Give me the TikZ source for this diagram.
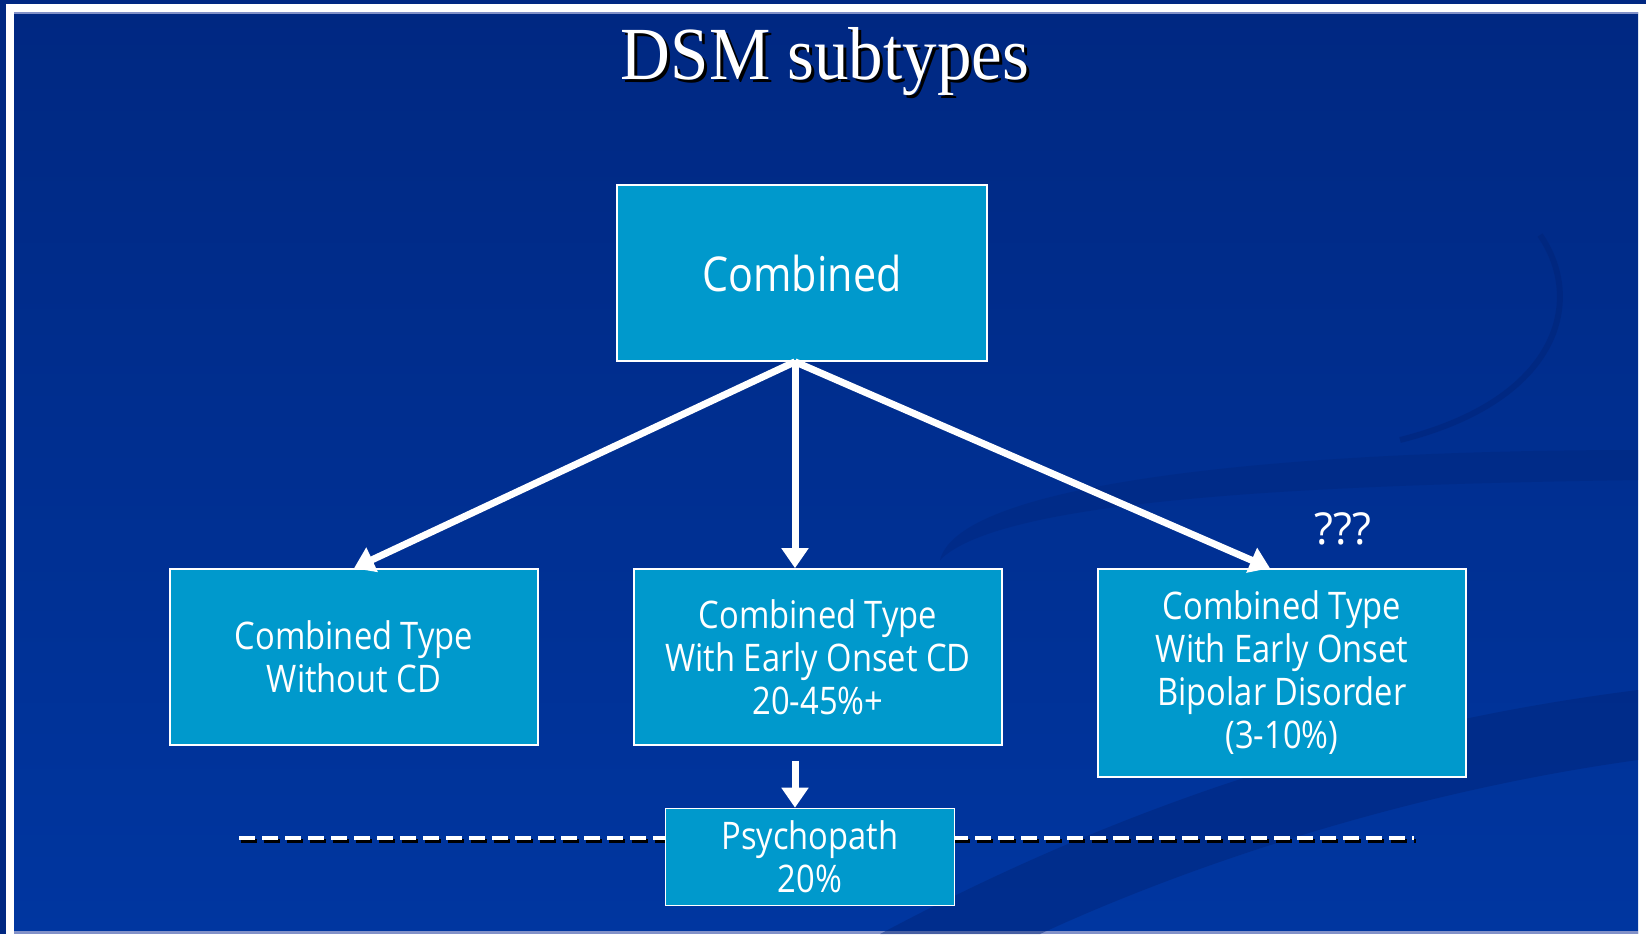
\documentclass[tikz,border=0pt]{standalone}
\usepackage{fontspec}
\usetikzlibrary{arrows.meta}
\newfontfamily\boxfont[FakeStretch=0.86]{Open Sans}
\newfontfamily\markfont{Open Sans}
\newfontfamily\titlefont[FakeStretch=0.92]{Liberation Serif}
\definecolor{slidetop}{RGB}{0,40,130}
\definecolor{slidebottom}{RGB}{0,54,160}
\definecolor{boxblue}{RGB}{0,153,204}
\definecolor{swirl}{RGB}{0,36,120}
\definecolor{edgeline}{RGB}{130,145,200}
\newcommand\shadowed[1]{\leavevmode\rlap{\hspace{1.5pt}\raisebox{-1.5pt}{\color{black}#1}}#1}
\tikzset{
  subtype/.style={draw=white,line width=0.8pt,fill=boxblue,text=white,
    inner sep=0pt,minimum width=184pt,minimum height=88pt,align=center,
    font=\boxfont\fontsize{19pt}{21.5pt}\selectfont},
  branch/.style={draw=white,line width=3.5pt,-{Triangle[width=13pt,length=10pt]}},
  cutline/.style={line width=2pt,dash pattern=on 8pt off 3.5pt}
}
\begin{document}
\begin{tikzpicture}[x=0.5pt,y=-0.5pt]
  % slide background and frame
  \useasboundingbox (0,0) rectangle (1646,934);
  \fill[slidetop] (0,0) rectangle (1646,934);
  \fill[white] (6,4) rectangle (1646,934);
  \shade[top color=slidetop,bottom color=slidebottom] (14,12) rectangle (1638,933);
  \fill[edgeline] (14,12) rectangle (1638,14);
  \fill[edgeline] (14,931) rectangle (1638,934);
  % swirls
  \fill[swirl,opacity=0.45] (880,934) .. controls (1150,790) and (1400,720) .. (1638,690)
    -- (1638,760) .. controls (1420,790) and (1200,860) .. (1040,934) -- cycle;
  \fill[swirl,opacity=0.35] (940,560) .. controls (960,480) and (1300,450) .. (1638,450)
    -- (1638,480) .. controls (1300,485) and (1000,500) .. (940,560) -- cycle;
  \draw[swirl,opacity=0.5,line width=3pt] (1540,235) .. controls (1585,300) and (1560,400) .. (1400,440);
  \node[font=\titlefont\fontsize{37.5pt}{40pt}\selectfont,text=white,anchor=base] (title) at (825,79) {\shadowed{DSM subtypes}};
  \node[subtype,minimum width=185pt,font=\boxfont\fontsize{24pt}{28pt}\selectfont] (comb) at (802,273) {Combined};
  \node[subtype] (without) at (354,657) {Combined Type\\Without CD};
  \node[subtype] (earlycd) at (818,657) {Combined Type\\With Early Onset CD\\20-45\%+};
  \node[subtype,minimum height=104pt] (bipolar) at (1282,673) {Combined Type\\With Early Onset\\Bipolar Disorder\\(3-10\%)};
  \node[text=white,font=\markfont\fontsize{22pt}{24pt}\selectfont,anchor=base] (unknown) at (1343,544) {???};
  % cut-off line behind the last box
  \draw[cutline,black] (241,841) -- (1416,841);
  \draw[cutline,white] (239,838) -- (1414,838);
  \node[subtype,minimum width=144.5pt,minimum height=48.5pt] (psych) at (810,857) {Psychopath\\20\%};
  \coordinate (hub) at ([xshift=-3.5pt]comb.south);
  \draw[branch] (hub) -- (without.north);
  \draw[branch] (hub) -- (hub |- earlycd.north);
  \draw[branch] (hub) -- ([xshift=-6pt]bipolar.north);
  \draw[branch] ([yshift=-7.5pt]hub |- earlycd.south) -- (hub |- psych.north);
\end{tikzpicture}
\end{document}
